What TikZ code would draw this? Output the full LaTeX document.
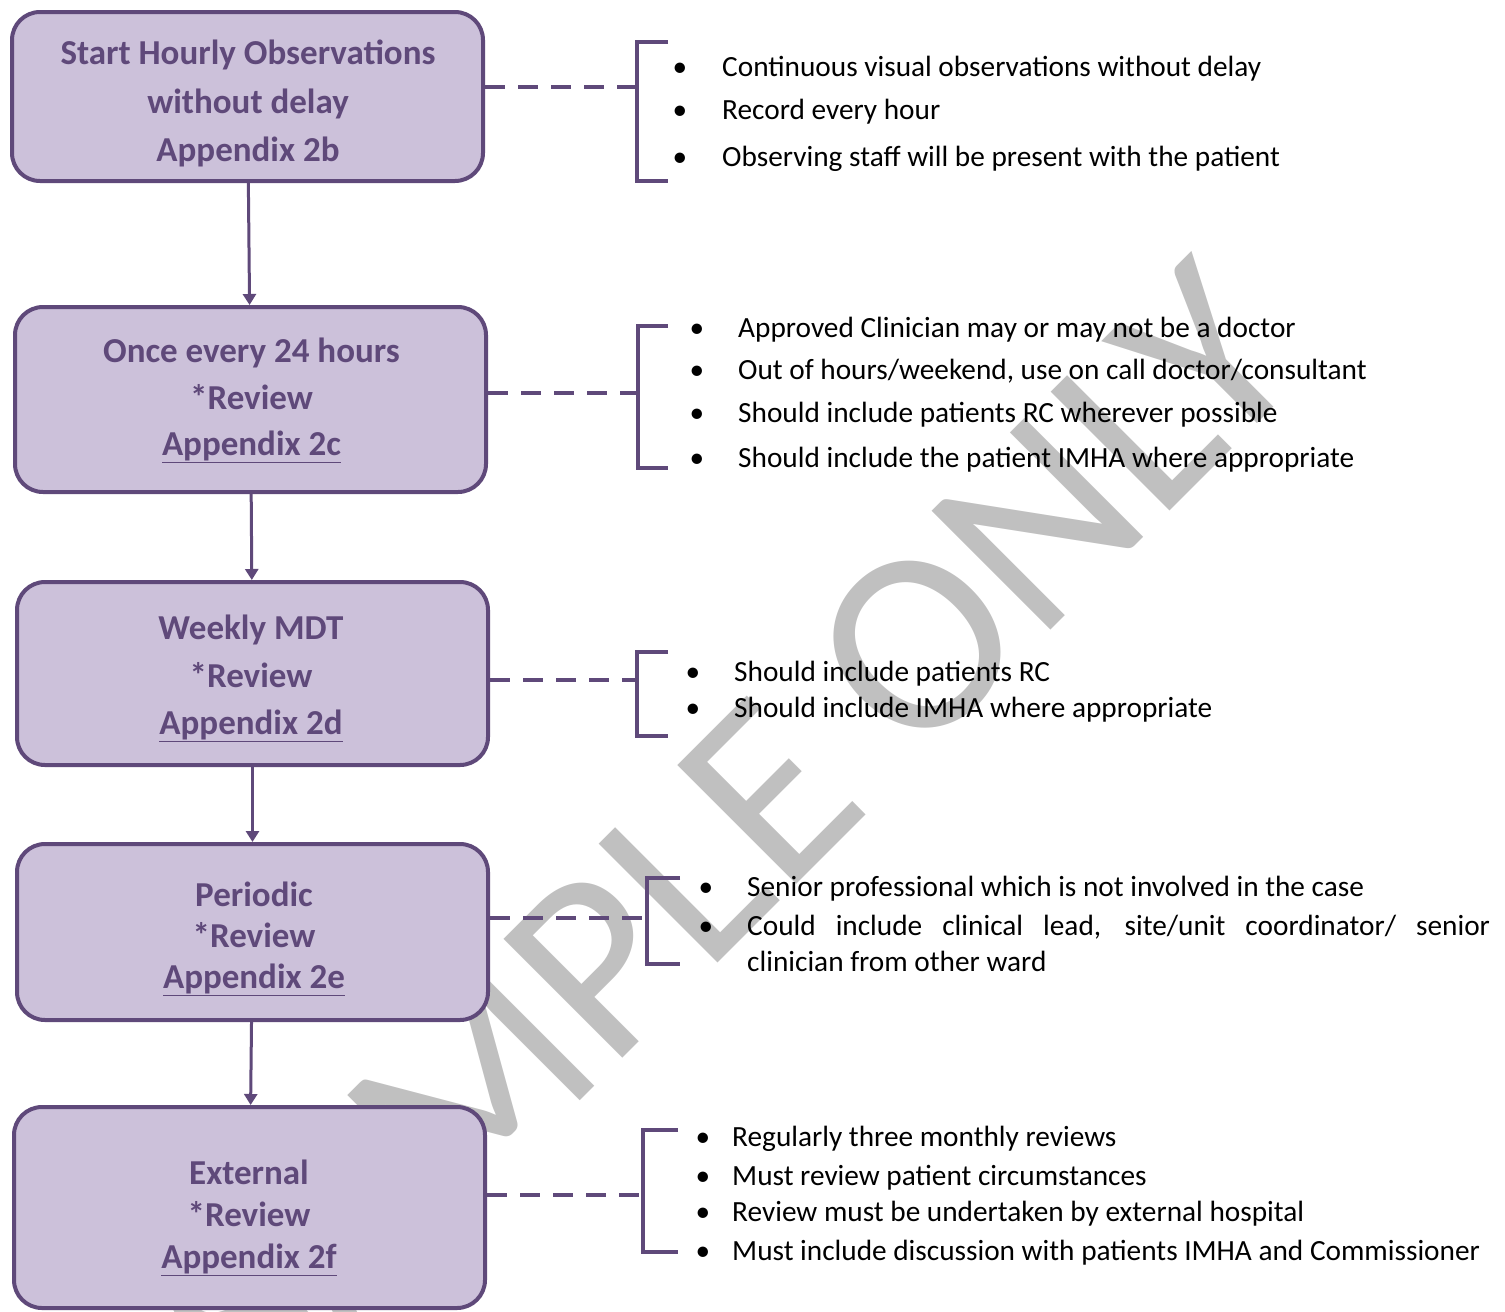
\documentclass[tikz,border=0pt]{standalone}
\usepackage{fontspec}
\setmainfont{Carlito}
\usetikzlibrary{arrows.meta}
\definecolor{plum}{HTML}{5F497A}
\definecolor{lilac}{HTML}{CCC1DA}
\definecolor{wmgrey}{HTML}{C0C0C0}
\tikzstyle{box}=[draw=plum,fill=lilac,line width=4pt,rounded corners=28pt,minimum width=471pt]
\tikzstyle{lbl}=[align=center,text=plum,inner sep=0pt,font=\bfseries\fontsize{35}{47}\selectfont]
\tikzstyle{dsh}=[draw=plum,line width=4pt,dash pattern=on 20pt off 13pt]
\tikzstyle{brk}=[draw=plum,line width=4pt]
\tikzstyle{arr}=[draw=plum,line width=3pt,-{Triangle[length=11pt,width=13pt]}]
\tikzstyle{txt}=[anchor=base west,inner sep=0pt,font=\fontsize{29.3}{34}\selectfont]
\tikzstyle{dot}=[anchor=base,inner sep=0pt,font=\fontsize{29.3}{34}\selectfont]
\tikzstyle{wm}=[rotate=45,text=wmgrey,inner sep=0pt,font=\fontsize{262}{262}\selectfont]

\begin{document}
\begin{tikzpicture}[x=1pt,y=-1pt]
\useasboundingbox (0,0) rectangle (1505,1312);
\node[wm] (w) at (726,836) {SAMPLE ONLY};
% steps
\node[box,minimum height=169pt] (1) at (247.5,96.5) {};
\node[box,minimum height=185pt] (2) at (250.5,399.5) {};
\node[box,minimum height=183pt] (3) at (252.5,673.5) {};
\node[box,minimum height=176pt] (4) at (252.5,932) {};
\node[box,minimum height=201pt] (5) at (249.5,1207.5) {};
\node[lbl,font=\bfseries\fontsize{35}{48.5}\selectfont] (1t) at (248,103.5) {Start Hourly Observations\\without delay\\Appendix 2b};
\node[lbl,font=\bfseries\fontsize{35}{46.5}\selectfont] (2t) at (251.5,400.5) {Once every 24 hours\\*Review\\\underline{Appendix 2c}};
\node[lbl,font=\bfseries\fontsize{35}{47.5}\selectfont] (3t) at (251,678.5) {Weekly MDT\\*Review\\\underline{Appendix 2d}};
\node[lbl,font=\bfseries\fontsize{35}{41}\selectfont] (4t) at (254,938.5) {Periodic\\*Review\\\underline{Appendix 2e}};
\node[lbl,font=\bfseries\fontsize{35}{42}\selectfont] (5t) at (249,1217.5) {External\\*Review\\\underline{Appendix 2f}};
\draw[arr] (1) -- (2);
\draw[arr] (2) -- (3);
\draw[arr] (3) -- (4);
\draw[arr] (4) -- (5);
% brackets
\coordinate (k1) at (637,87);
\coordinate (k2) at (638,393);
\coordinate (k3) at (637,680);
\coordinate (k4) at (647,918);
\coordinate (k5) at (643,1195);
\draw[brk] (668,42) -| (637,181) -- (668,181);
\draw[brk] (668,326) -| (638,468) -- (668,468);
\draw[brk] (668,652) -| (637,736) -- (668,736);
\draw[brk] (680,878) -| (647,964) -- (680,964);
\draw[brk] (678,1130) -| (643,1252) -- (678,1252);
\draw[dsh] (1.east |- k1) -- (k1);
\draw[dsh] (2.east |- k2) -- (k2);
\draw[dsh] (3.east |- k3) -- (k3);
\draw[dsh] (4.east |- k4) -- (k4);
\draw[dsh] (5.east |- k5) -- (k5);
% notes
\node[dot] at (680,76) {\textbullet};
\node[dot] at (680,119) {\textbullet};
\node[dot] at (680,166) {\textbullet};
\node[txt] (a1) at (722,76) {Continuous visual observations without delay};
\node[txt] (a2) at (722,119) {Record every hour};
\node[txt] (a3) at (722,166) {Observing staff will be present with the patient};
\node[dot] at (697,337) {\textbullet};
\node[dot] at (697,379) {\textbullet};
\node[dot] at (697,422) {\textbullet};
\node[dot] at (697,467) {\textbullet};
\node[txt] (b1) at (738,337) {Approved Clinician may or may not be a doctor};
\node[txt] (b2) at (738,379) {Out of hours/weekend, use on call doctor/consultant};
\node[txt] (b3) at (738,422) {Should include patients RC wherever possible};
\node[txt] (b4) at (738,467) {Should include the patient IMHA where appropriate};
\node[dot] at (693,681) {\textbullet};
\node[dot] at (693,717) {\textbullet};
\node[txt] (c1) at (734,681) {Should include patients RC};
\node[txt] (c2) at (734,717) {Should include IMHA where appropriate};
\node[dot] at (706,896) {\textbullet};
\node[dot] at (706,935) {\textbullet};
\node[txt] (d1) at (747,896) {Senior professional which is not involved in the case};
\node[txt] (d2) at (747,935) {\makebox[743pt][s]{Could include clinical lead, site/unit coordinator/ senior}};
\node[txt] (d3) at (747,971) {clinician from other ward};
\node[dot] at (703,1146) {\textbullet};
\node[dot] at (703,1185) {\textbullet};
\node[dot] at (703,1221) {\textbullet};
\node[dot] at (703,1260) {\textbullet};
\node[txt] (e1) at (732,1146) {Regularly three monthly reviews};
\node[txt] (e2) at (732,1185) {Must review patient circumstances};
\node[txt] (e3) at (732,1221) {Review must be undertaken by external hospital};
\node[txt] (e4) at (732,1260) {Must include discussion with patients IMHA and Commissioner};
\end{tikzpicture}
\end{document}
